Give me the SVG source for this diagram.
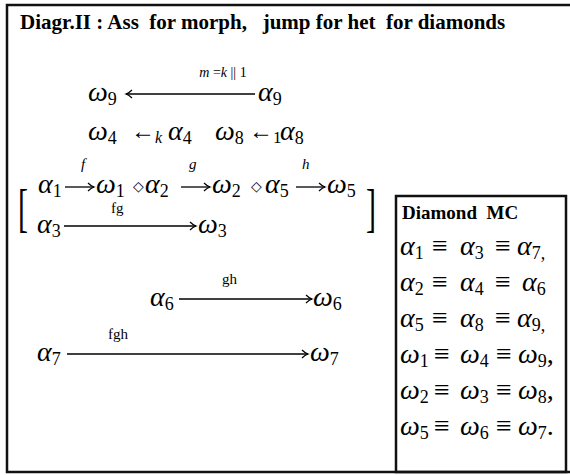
<svg xmlns="http://www.w3.org/2000/svg" width="570" height="475" viewBox="0 0 570 475">
<style>
.t{font-family:"Liberation Serif","Times New Roman",serif;fill:#000;white-space:pre}
.title{font-size:21px;font-weight:bold}
.m{font-size:28px}
.g{font-style:italic}
.s{font-size:18px}
.lbl{font-size:15px}
.br{font-size:30px}
.ln{stroke:#000;stroke-width:1.3;fill:none}
.frame{stroke:#111;stroke-width:2.5;fill:none}
</style>
<defs>
<marker id="ah" markerUnits="userSpaceOnUse" markerWidth="12" markerHeight="12" refX="0" refY="0" viewBox="-8 -6 10 12" orient="auto">
<path d="M-6,-4 Q-3,-1 0,0 Q-3,1 -6,4" stroke="#000" stroke-width="1.2" fill="none"/>
</marker>
</defs>
<rect x="0" y="0" width="570" height="475" fill="#fff"/>
<g id="frame">
<rect class="frame" x="7" y="5" width="572" height="467"/>
</g>
<text class="t title" x="20" y="29">Diagr.II : Ass  for morph,   jump for het  for diamonds</text>

<g id="connectors">
<line class="ln" x1="255" y1="94" x2="126" y2="94" marker-end="url(#ah)"/>
<line class="ln" x1="65" y1="187" x2="94" y2="187" marker-end="url(#ah)"/>
<line class="ln" x1="181" y1="187" x2="210" y2="187" marker-end="url(#ah)"/>
<line class="ln" x1="296" y1="187" x2="325" y2="187" marker-end="url(#ah)"/>
<line class="ln" x1="64" y1="226" x2="196" y2="226" marker-end="url(#ah)"/>
<line class="ln" x1="179" y1="299" x2="312" y2="299" marker-end="url(#ah)"/>
<line class="ln" x1="67" y1="354" x2="308" y2="354" marker-end="url(#ah)"/>
<text class="t" x="223" y="77" font-size="14" text-anchor="middle"><tspan class="g">m</tspan> =<tspan class="g">k</tspan> || 1</text>
<text class="t lbl g" x="81" y="169">f</text>
<text class="t lbl g" x="189" y="169">g</text>
<text class="t lbl g" x="302" y="169">h</text>
<text class="t lbl" x="111" y="213">fg</text>
<text class="t lbl" x="222" y="284">gh</text>
<text class="t lbl" x="108" y="339">fgh</text>
</g>

<g id="n-omega9"><text class="t m" x="88" y="101"><tspan class="g">ω</tspan><tspan class="s" dy="4">9</tspan></text></g>
<g id="n-alpha9"><text class="t m" x="258" y="101"><tspan class="g">α</tspan><tspan class="s" dy="4">9</tspan></text></g>

<g id="n-row2">
<text class="t m" x="88" y="140"><tspan class="g">ω</tspan><tspan class="s" dy="4">4</tspan></text>
<text class="t" x="131" y="139" font-size="24">←<tspan class="g" font-size="16" dy="4">k</tspan></text>
<text class="t m" x="168" y="140"><tspan class="g">α</tspan><tspan class="s" dy="4">4</tspan></text>
<text class="t m" x="215" y="140"><tspan class="g">ω</tspan><tspan class="s" dy="4">8</tspan></text>
<text class="t" x="249" y="139" font-size="24">←<tspan font-size="17" dy="4">1</tspan></text>
<text class="t m" x="280" y="140"><tspan class="g">α</tspan><tspan class="s" dy="4">8</tspan></text>
</g>

<g id="n-row3">
<text class="t m" x="38" y="193"><tspan class="g">α</tspan><tspan class="s" dy="4">1</tspan></text>
<text class="t m" x="96" y="193"><tspan class="g">ω</tspan><tspan class="s" dy="4">1</tspan></text>
<text class="t" x="133" y="191" font-size="14">◇</text>
<text class="t m" x="145" y="193"><tspan class="g">α</tspan><tspan class="s" dy="4">2</tspan></text>
<text class="t m" x="212" y="193"><tspan class="g">ω</tspan><tspan class="s" dy="4">2</tspan></text>
<text class="t" x="251" y="191" font-size="14">◇</text>
<text class="t m" x="265" y="193"><tspan class="g">α</tspan><tspan class="s" dy="4">5</tspan></text>
<text class="t m" x="327" y="193"><tspan class="g">ω</tspan><tspan class="s" dy="4">5</tspan></text>
</g>

<g id="brackets">
<text class="t br" transform="translate(18,226) scale(1,1.75)">[</text>
<text class="t br" transform="translate(366,226) scale(1,1.75)">]</text>
</g>

<g id="n-row4">
<text class="t m" x="37" y="233"><tspan class="g">α</tspan><tspan class="s" dy="4">3</tspan></text>
<text class="t m" x="198" y="233"><tspan class="g">ω</tspan><tspan class="s" dy="4">3</tspan></text>
</g>
<g id="n-row5">
<text class="t m" x="150" y="306"><tspan class="g">α</tspan><tspan class="s" dy="4">6</tspan></text>
<text class="t m" x="313" y="306"><tspan class="g">ω</tspan><tspan class="s" dy="4">6</tspan></text>
</g>
<g id="n-row6">
<text class="t m" x="37" y="361"><tspan class="g">α</tspan><tspan class="s" dy="4">7</tspan></text>
<text class="t m" x="310" y="361"><tspan class="g">ω</tspan><tspan class="s" dy="4">7</tspan></text>
</g>

<g id="diamond-mc">
<rect class="frame" x="396" y="196" width="170" height="276"/>
<text class="t" x="402" y="219" font-size="19" font-weight="bold">Diamond  MC</text>
<g class="t m">
<text x="400" y="255"><tspan class="g">α</tspan><tspan class="s" dy="4">1</tspan></text><text x="432" y="255">≡</text><text x="460" y="255"><tspan class="g">α</tspan><tspan class="s" dy="4">3</tspan></text><text x="495" y="255">≡</text><text x="517" y="255"><tspan class="g">α</tspan><tspan class="s" dy="4">7,</tspan></text>
<text x="400" y="291"><tspan class="g">α</tspan><tspan class="s" dy="4">2</tspan></text><text x="432" y="291">≡</text><text x="460" y="291"><tspan class="g">α</tspan><tspan class="s" dy="4">4</tspan></text><text x="495" y="291">≡</text><text x="522" y="291"><tspan class="g">α</tspan><tspan class="s" dy="4">6</tspan></text>
<text x="400" y="327"><tspan class="g">α</tspan><tspan class="s" dy="4">5</tspan></text><text x="432" y="327">≡</text><text x="460" y="327"><tspan class="g">α</tspan><tspan class="s" dy="4">8</tspan></text><text x="495" y="327">≡</text><text x="517" y="327"><tspan class="g">α</tspan><tspan class="s" dy="4">9,</tspan></text>
<text x="400" y="363"><tspan class="g">ω</tspan><tspan class="s" dy="4">1</tspan></text><text x="434" y="363">≡</text><text x="460" y="363"><tspan class="g">ω</tspan><tspan class="s" dy="4">4</tspan></text><text x="496" y="363">≡</text><text x="518" y="363"><tspan class="g">ω</tspan><tspan class="s" dy="4">9</tspan><tspan dy="-4">,</tspan></text>
<text x="400" y="399"><tspan class="g">ω</tspan><tspan class="s" dy="4">2</tspan></text><text x="434" y="399">≡</text><text x="460" y="399"><tspan class="g">ω</tspan><tspan class="s" dy="4">3</tspan></text><text x="496" y="399">≡</text><text x="518" y="399"><tspan class="g">ω</tspan><tspan class="s" dy="4">8</tspan><tspan dy="-4">,</tspan></text>
<text x="400" y="435"><tspan class="g">ω</tspan><tspan class="s" dy="4">5</tspan></text><text x="434" y="435">≡</text><text x="460" y="435"><tspan class="g">ω</tspan><tspan class="s" dy="4">6</tspan></text><text x="496" y="435">≡</text><text x="518" y="435"><tspan class="g">ω</tspan><tspan class="s" dy="4">7</tspan><tspan dy="-4">.</tspan></text>
</g>
</g>
</svg>
